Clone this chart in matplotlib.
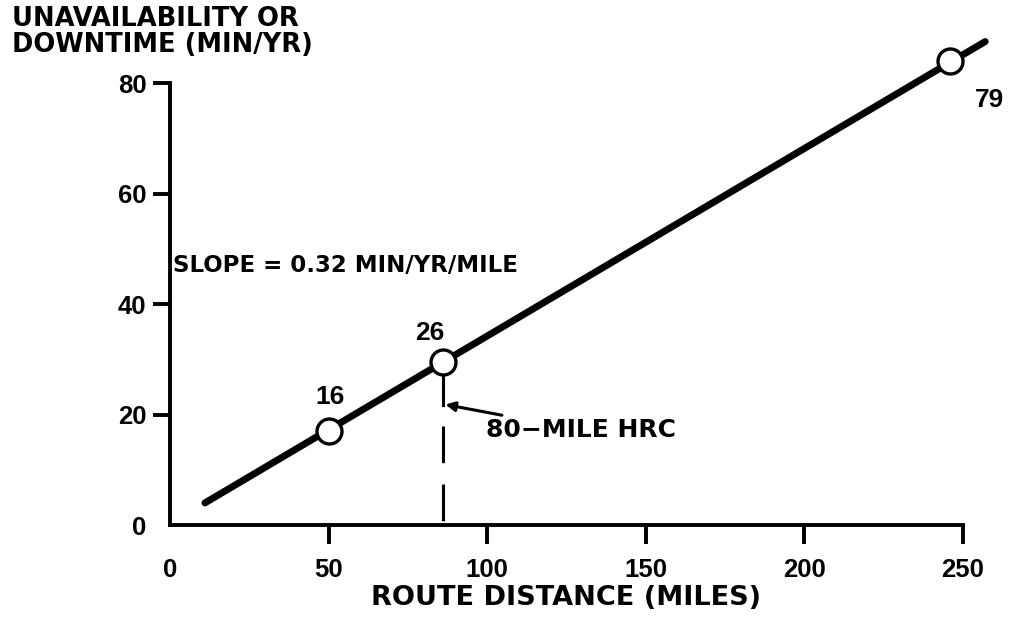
import matplotlib
matplotlib.use('Agg')
import matplotlib.pyplot as plt

plt.rcParams['font.family'] = ['DejaVu Sans']
plt.rcParams['font.weight'] = 'bold'
plt.rcParams['axes.labelweight'] = 'bold'

# Data
line_x = [11, 257]
line_y = [4, 87.5]
pts_x = [50, 86, 246]
pts_y = [17, 29.5, 84]
pt_labels = ['16', '26', '79']
hrc_x = 86
x_ticks = [0, 50, 100, 150, 200, 250]
y_ticks = [0, 20, 40, 60, 80]

num_font = ['Liberation Sans', 'DejaVu Sans']

fig = plt.figure(figsize=(10.09, 6.26), dpi=100)
ax = fig.add_axes([0.1685, 0.1613, 0.9544 - 0.1685, 0.8674 - 0.1613])
ax.set_xlim(0, 250)
ax.set_ylim(0, 80)

# main trend line and the three marked points
ax.plot(line_x, line_y, color='black', lw=5, solid_capstyle='round', clip_on=False, zorder=3)
ax.plot(pts_x, pts_y, 'o', ms=18, mfc='white', mec='black', mew=2.4, clip_on=False, zorder=4)

# point labels
ax.text(50.4, 23.2, pt_labels[0], ha='center', va='center', fontsize=19, family=num_font)
ax.text(82, 34.8, pt_labels[1], ha='center', va='center', fontsize=19, family=num_font)
ax.text(258.5, 77, pt_labels[2], ha='center', va='center', fontsize=19, family=num_font,
        clip_on=False)

# 80-mile HRC marker
ax.plot([hrc_x, hrc_x], [27, 21.7], color='black', lw=2.2, zorder=2)
ax.plot([hrc_x, hrc_x], [18, 0], color='black', lw=2.2, ls=(0, (12, 7)), zorder=2)
ax.annotate('80\u2212MILE HRC', xy=(hrc_x + 0.8, 21.8), xytext=(99.5, 17.2),
            ha='left', va='center', fontsize=18,
            arrowprops=dict(arrowstyle='-|>', color='black', lw=2.2,
                            mutation_scale=14, shrinkA=0, shrinkB=0))

ax.text(1, 47, 'SLOPE = 0.32 MIN/YR/MILE', ha='left', va='center', fontsize=16.5)

# axes styling
for side in ['top', 'right']:
    ax.spines[side].set_visible(False)
for side in ['left', 'bottom']:
    ax.spines[side].set_linewidth(2.8)

ax.set_xticks(x_ticks)
ax.set_yticks(y_ticks)
ax.tick_params(axis='x', direction='out', length=14, width=2.8, pad=10, labelsize=18.5)
ax.tick_params(axis='y', direction='out', length=12, width=2.8, pad=5, labelsize=18.5)
for lab in ax.get_xticklabels() + ax.get_yticklabels():
    lab.set_family(num_font)
    lab.set_fontweight('bold')
# no tick marks at the origin
ax.xaxis.get_major_ticks()[0].tick1line.set_visible(False)
ax.yaxis.get_major_ticks()[0].tick1line.set_visible(False)

ax.set_xlabel('ROUTE DISTANCE (MILES)', fontsize=19.5, fontweight='bold', labelpad=2)
fig.text(0.012, 0.99, 'UNAVAILABILITY OR\nDOWNTIME (MIN/YR)', ha='left', va='top',
         fontsize=18.5, linespacing=1.0)

fig.savefig('out.png', dpi=100)
